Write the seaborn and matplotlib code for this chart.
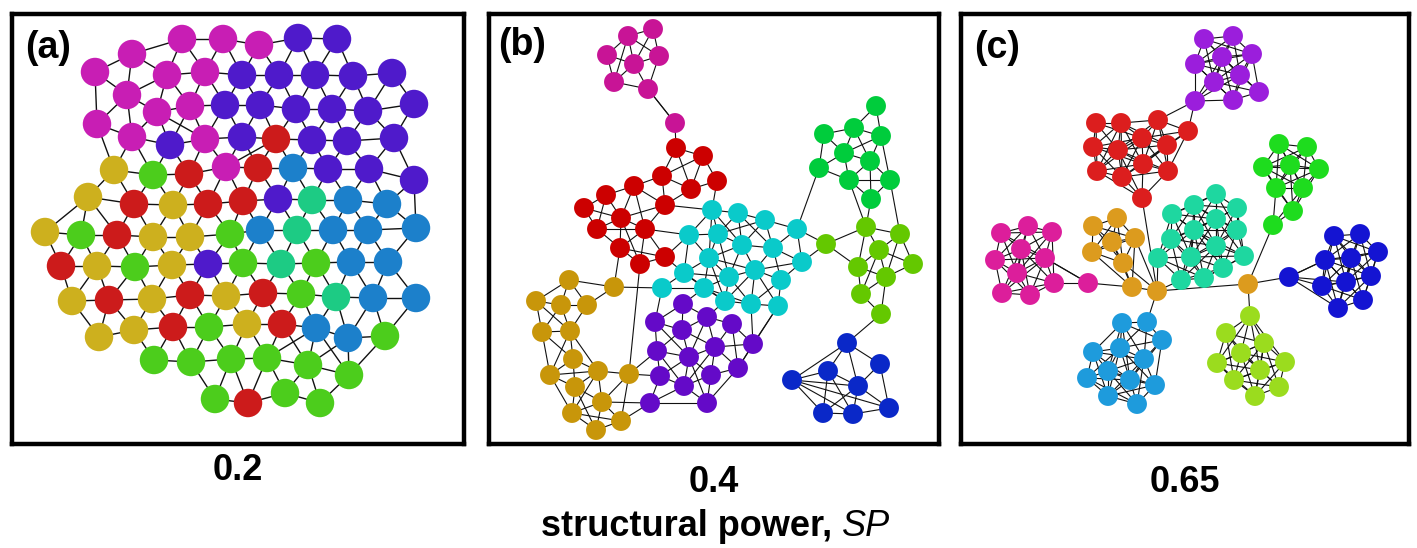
import numpy as np
import pandas as pd
import seaborn as sns
import matplotlib.pyplot as plt
from matplotlib.collections import LineCollection

# --- node positions (pixel coords of the layout) ---
# panel (a): SP = 0.2
A_MAGENTA = [(182, 39), (223, 39), (132, 54), (95, 72), (167, 75), (205, 72), (127, 95),
             (157, 112), (190, 106), (97, 124), (132, 137), (205, 139), (226, 167), (259, 45)]
A_PURPLE = [(298, 38), (337, 39), (242, 75), (279, 75), (315, 75), (353, 76), (392, 73),
            (225, 105), (260, 105), (296, 109), (332, 109), (368, 111), (414, 104), (170, 145),
            (242, 137), (312, 140), (347, 141), (394, 138), (328, 169), (369, 169), (414, 180),
            (278, 199), (208, 264)]
A_RED = [(189, 174), (134, 204), (208, 204), (243, 201), (276, 139), (258, 168), (117, 235),
         (61, 266), (109, 300), (190, 295), (173, 327), (263, 293), (282, 324), (248, 403)]
A_YELLOW = [(114, 170), (88, 197), (173, 205), (45, 232), (153, 237), (190, 237), (97, 266),
            (172, 265), (72, 301), (152, 299), (226, 296), (99, 337), (134, 330), (247, 324)]
A_GREEN = [(153, 175), (81, 235), (230, 234), (135, 267), (243, 263), (316, 263), (209, 327),
           (154, 360), (191, 362), (231, 359), (215, 399), (301, 294), (267, 358), (308, 365),
           (349, 375), (385, 336), (285, 393), (320, 403)]
A_TEAL = [(312, 200), (297, 230), (281, 264), (336, 297)]
A_BLUE = [(293, 168), (348, 200), (387, 204), (260, 230), (333, 230), (368, 230), (416, 228),
          (351, 262), (388, 262), (373, 298), (416, 298), (316, 328), (348, 338)]

# panel (b): SP = 0.4
B_MAGENTA = [(653, 29), (628, 36), (607, 55), (634, 64), (659, 56), (614, 82), (648, 89), (675, 123)]
B_RED = [(676, 148), (703, 156), (662, 176), (634, 186), (691, 189), (717, 181), (606, 195),
         (584, 208), (665, 205), (621, 218), (597, 229), (645, 229), (620, 248), (665, 257), (640, 264)]
B_CYAN = [(712, 210), (738, 213), (765, 220), (797, 229), (689, 235), (718, 234), (742, 245),
          (773, 248), (709, 258), (802, 262), (755, 270), (684, 273), (729, 277), (781, 280),
          (662, 288), (704, 288), (725, 301), (751, 304), (778, 306)]
B_GOLD = [(569, 280), (614, 287), (536, 301), (561, 305), (587, 305), (542, 332), (570, 331),
          (573, 359), (550, 375), (598, 371), (629, 374), (575, 387), (602, 402), (572, 413),
          (621, 421), (596, 430)]
B_PURPLE = [(683, 304), (655, 322), (682, 330), (707, 317), (732, 324), (657, 351), (689, 357),
            (715, 347), (753, 344), (660, 376), (684, 386), (711, 375), (738, 368), (650, 403), (707, 403)]
B_GREEN = [(876, 106), (854, 128), (824, 134), (881, 136), (844, 153), (870, 161), (819, 168),
           (849, 180), (890, 180), (871, 199)]
B_LIME = [(826, 244), (866, 227), (900, 234), (879, 250), (858, 267), (886, 277), (913, 264),
          (861, 294), (881, 314)]
B_BLUE = [(847, 343), (828, 371), (880, 364), (792, 380), (858, 386), (823, 413), (853, 414), (889, 408)]

# panel (c): SP = 0.65
C_PURPLE = [(1204, 39), (1233, 36), (1222, 57), (1195, 64), (1252, 54), (1240, 75), (1214, 82),
            (1259, 92), (1195, 101), (1233, 100)]
C_RED = [(1096, 123), (1121, 123), (1158, 120), (1188, 131), (1142, 138), (1093, 147), (1118, 150),
         (1167, 145), (1143, 164), (1097, 171), (1122, 177), (1168, 171), (1142, 198)]
C_GREEN = [(1279, 144), (1307, 147), (1263, 167), (1290, 165), (1319, 169), (1276, 188), (1303, 188),
           (1293, 211), (1273, 225)]
C_TEAL = [(1216, 194), (1194, 205), (1237, 208), (1172, 214), (1216, 219), (1171, 239), (1194, 230),
          (1237, 230), (1216, 246), (1158, 258), (1191, 257), (1244, 256), (1223, 268), (1181, 280), (1204, 278)]
C_GOLD = [(1093, 226), (1117, 218), (1112, 242), (1135, 238), (1092, 252), (1123, 263), (1132, 287),
          (1157, 291), (1248, 284)]
C_MAGENTA = [(1001, 233), (1028, 226), (1052, 232), (1021, 249), (995, 260), (1045, 258), (1017, 273),
             (1054, 283), (1002, 293), (1030, 295), (1088, 283)]
C_SKY = [(1122, 323), (1147, 322), (1162, 340), (1093, 352), (1120, 348), (1144, 359), (1108, 371),
         (1087, 378), (1130, 380), (1155, 385), (1108, 396), (1137, 404)]
C_LIME = [(1250, 316), (1226, 333), (1264, 343), (1241, 353), (1217, 363), (1285, 362), (1260, 370),
          (1234, 380), (1279, 387), (1255, 396)]
C_BLUE = [(1289, 277), (1334, 236), (1360, 234), (1325, 260), (1351, 258), (1378, 252), (1322, 286),
          (1346, 282), (1371, 276), (1338, 308), (1363, 300)]

# links that the neighbour rule below does not pick up (community, index)
B_LINKS = [("magenta", 6, "magenta", 7), ("magenta", 7, "red", 0), ("red", 5, "cyan", 0),
           ("red", 8, "cyan", 0), ("red", 13, "cyan", 4), ("red", 13, "cyan", 11), ("red", 11, "cyan", 4),
           ("red", 12, "gold", 1), ("gold", 1, "cyan", 14), ("gold", 10, "red", 14),
           ("gold", 10, "purple", 9), ("gold", 10, "purple", 5), ("gold", 12, "purple", 13),
           ("gold", 14, "purple", 13), ("purple", 13, "purple", 14), ("cyan", 3, "green", 6),
           ("cyan", 9, "lime", 0), ("cyan", 3, "lime", 0), ("green", 7, "lime", 1), ("green", 9, "lime", 1),
           ("green", 8, "lime", 2), ("lime", 8, "blue", 0), ("cyan", 18, "purple", 8),
           ("cyan", 17, "purple", 8), ("cyan", 16, "purple", 3), ("cyan", 14, "purple", 1),
           ("cyan", 15, "purple", 0), ("cyan", 18, "purple", 12), ("blue", 3, "blue", 6),
           ("blue", 3, "blue", 7), ("blue", 3, "blue", 4), ("blue", 3, "blue", 0)]
C_LINKS = [("purple", 8, "red", 3), ("purple", 8, "red", 2), ("red", 12, "gold", 7),
           ("green", 8, "gold", 8), ("teal", 13, "gold", 7), ("teal", 9, "gold", 7),
           ("gold", 7, "gold", 8), ("gold", 8, "blue", 0), ("gold", 8, "lime", 0),
           ("gold", 7, "sky", 1), ("magenta", 10, "gold", 6), ("magenta", 10, "magenta", 5),
           ("blue", 0, "blue", 3)]

A_COLORS = {"magenta": "#C81EB4", "purple": "#4F1ACB", "red": "#CC1B1B", "yellow": "#CDB01E",
            "green": "#4CCD1C", "teal": "#1DCB84", "blue": "#1C80CB"}
B_COLORS = {"magenta": "#C81496", "red": "#CC0000", "cyan": "#0ACACA", "gold": "#C8960A",
            "purple": "#640AC8", "green": "#00CC3C", "lime": "#64C800", "blue": "#0A28C8"}
C_COLORS = {"purple": "#9B1EDC", "red": "#DC1E1E", "green": "#1EDC1E", "teal": "#1ED7A0",
            "gold": "#DC9B1E", "magenta": "#DC1E9B", "sky": "#1E9BDC", "lime": "#9BDC1E",
            "blue": "#1414D2"}

PANELS = [
    {"label": "(a)", "sp": "0.2",
     "groups": {"magenta": A_MAGENTA, "purple": A_PURPLE, "red": A_RED, "yellow": A_YELLOW,
                "green": A_GREEN, "teal": A_TEAL, "blue": A_BLUE},
     "colors": A_COLORS, "links": [], "reach": 58, "any_group": True,
     "size": 420, "lw": 1.0, "box": (11.5, 463.5), "label_xy": (25, 48), "sp_y": 470},
    {"label": "(b)", "sp": "0.4",
     "groups": {"magenta": B_MAGENTA, "red": B_RED, "cyan": B_CYAN, "gold": B_GOLD,
                "purple": B_PURPLE, "green": B_GREEN, "lime": B_LIME, "blue": B_BLUE},
     "colors": B_COLORS, "links": B_LINKS, "reach": 50, "any_group": False,
     "size": 205, "lw": 0.8, "box": (488.5, 938.5), "label_xy": (498, 45), "sp_y": 482},
    {"label": "(c)", "sp": "0.65",
     "groups": {"purple": C_PURPLE, "red": C_RED, "green": C_GREEN, "teal": C_TEAL, "gold": C_GOLD,
                "magenta": C_MAGENTA, "sky": C_SKY, "lime": C_LIME, "blue": C_BLUE},
     "colors": C_COLORS, "links": C_LINKS, "reach": 58, "any_group": False,
     "size": 205, "lw": 0.8, "box": (961.5, 1409), "label_xy": (974, 48), "sp_y": 482},
]

W, H = 1417, 548
TOP, BOTTOM = 14, 443.5
FONT = ["Liberation Sans", "DejaVu Sans"]


def build_edges(p):
    # neighbouring nodes are joined, plus the listed bridge links
    rows = [(g, i, x, y) for g, pts in p["groups"].items() for i, (x, y) in enumerate(pts)]
    segs = []
    for a in range(len(rows)):
        for b in range(a + 1, len(rows)):
            ga, _, xa, ya = rows[a]
            gb, _, xb, yb = rows[b]
            if not p["any_group"] and ga != gb:
                continue
            # bridge nodes (far from their own group) only use the explicit links
            if np.hypot(xa - xb, ya - yb) < p["reach"]:
                segs.append([(xa, ya), (xb, yb)])
    for g1, i1, g2, i2 in p["links"]:
        segs.append([p["groups"][g1][i1], p["groups"][g2][i2]])
    return segs


def main():
    sns.set_theme(style="white")
    plt.rcParams["font.family"] = FONT
    plt.rcParams["text.color"] = "black"
    fig = plt.figure(figsize=(W / 100, H / 100), dpi=100)

    for p in PANELS:
        x0, x1 = p["box"]
        ax = fig.add_axes([x0 / W, 1 - BOTTOM / H, (x1 - x0) / W, (BOTTOM - TOP) / H])

        df = pd.DataFrame(
            [(x, y, g) for g, pts in p["groups"].items() for (x, y) in pts],
            columns=["x", "y", "community"])

        lc = LineCollection(build_edges(p), colors="#111111", linewidths=p["lw"], zorder=1)
        ax.add_collection(lc)
        sns.scatterplot(data=df, x="x", y="y", hue="community", palette=p["colors"],
                        s=p["size"], linewidth=0, legend=False, ax=ax, zorder=3)

        ax.set_xlim(x0, x1)
        ax.set_ylim(BOTTOM, TOP)
        ax.set_xticks([])
        ax.set_yticks([])
        ax.set_xlabel("")
        ax.set_ylabel("")
        for s in ax.spines.values():
            s.set_visible(True)
            s.set_color("black")
            s.set_linewidth(3.2)

        lx, ly = p["label_xy"]
        ax.text(lx, ly, p["label"], fontsize=27, fontweight="bold", ha="left", va="center",
                color="black", zorder=5)

        fig.text((x0 + x1) / 2 / W, 1 - p["sp_y"] / H, p["sp"], fontsize=26, fontweight="bold",
                 ha="center", va="center", color="black")

    # axis title with bold text and italic symbol
    t1 = fig.text(0.5, 1 - 527 / H, "structural power, ", fontsize=26, fontweight="bold",
                  ha="left", va="center", color="black")
    t2 = fig.text(0.5, 1 - 527 / H, "SP", fontsize=26, fontstyle="italic",
                  ha="left", va="center", color="black")
    fig.canvas.draw()
    r = fig.canvas.get_renderer()
    w1 = t1.get_window_extent(r).width
    w2 = t2.get_window_extent(r).width
    start = 716 - (w1 + w2) / 2
    t1.set_x(start / W)
    t2.set_x((start + w1) / W)

    plt.savefig("out.png", dpi=100)
    plt.close()


if __name__ == "__main__":
    main()
